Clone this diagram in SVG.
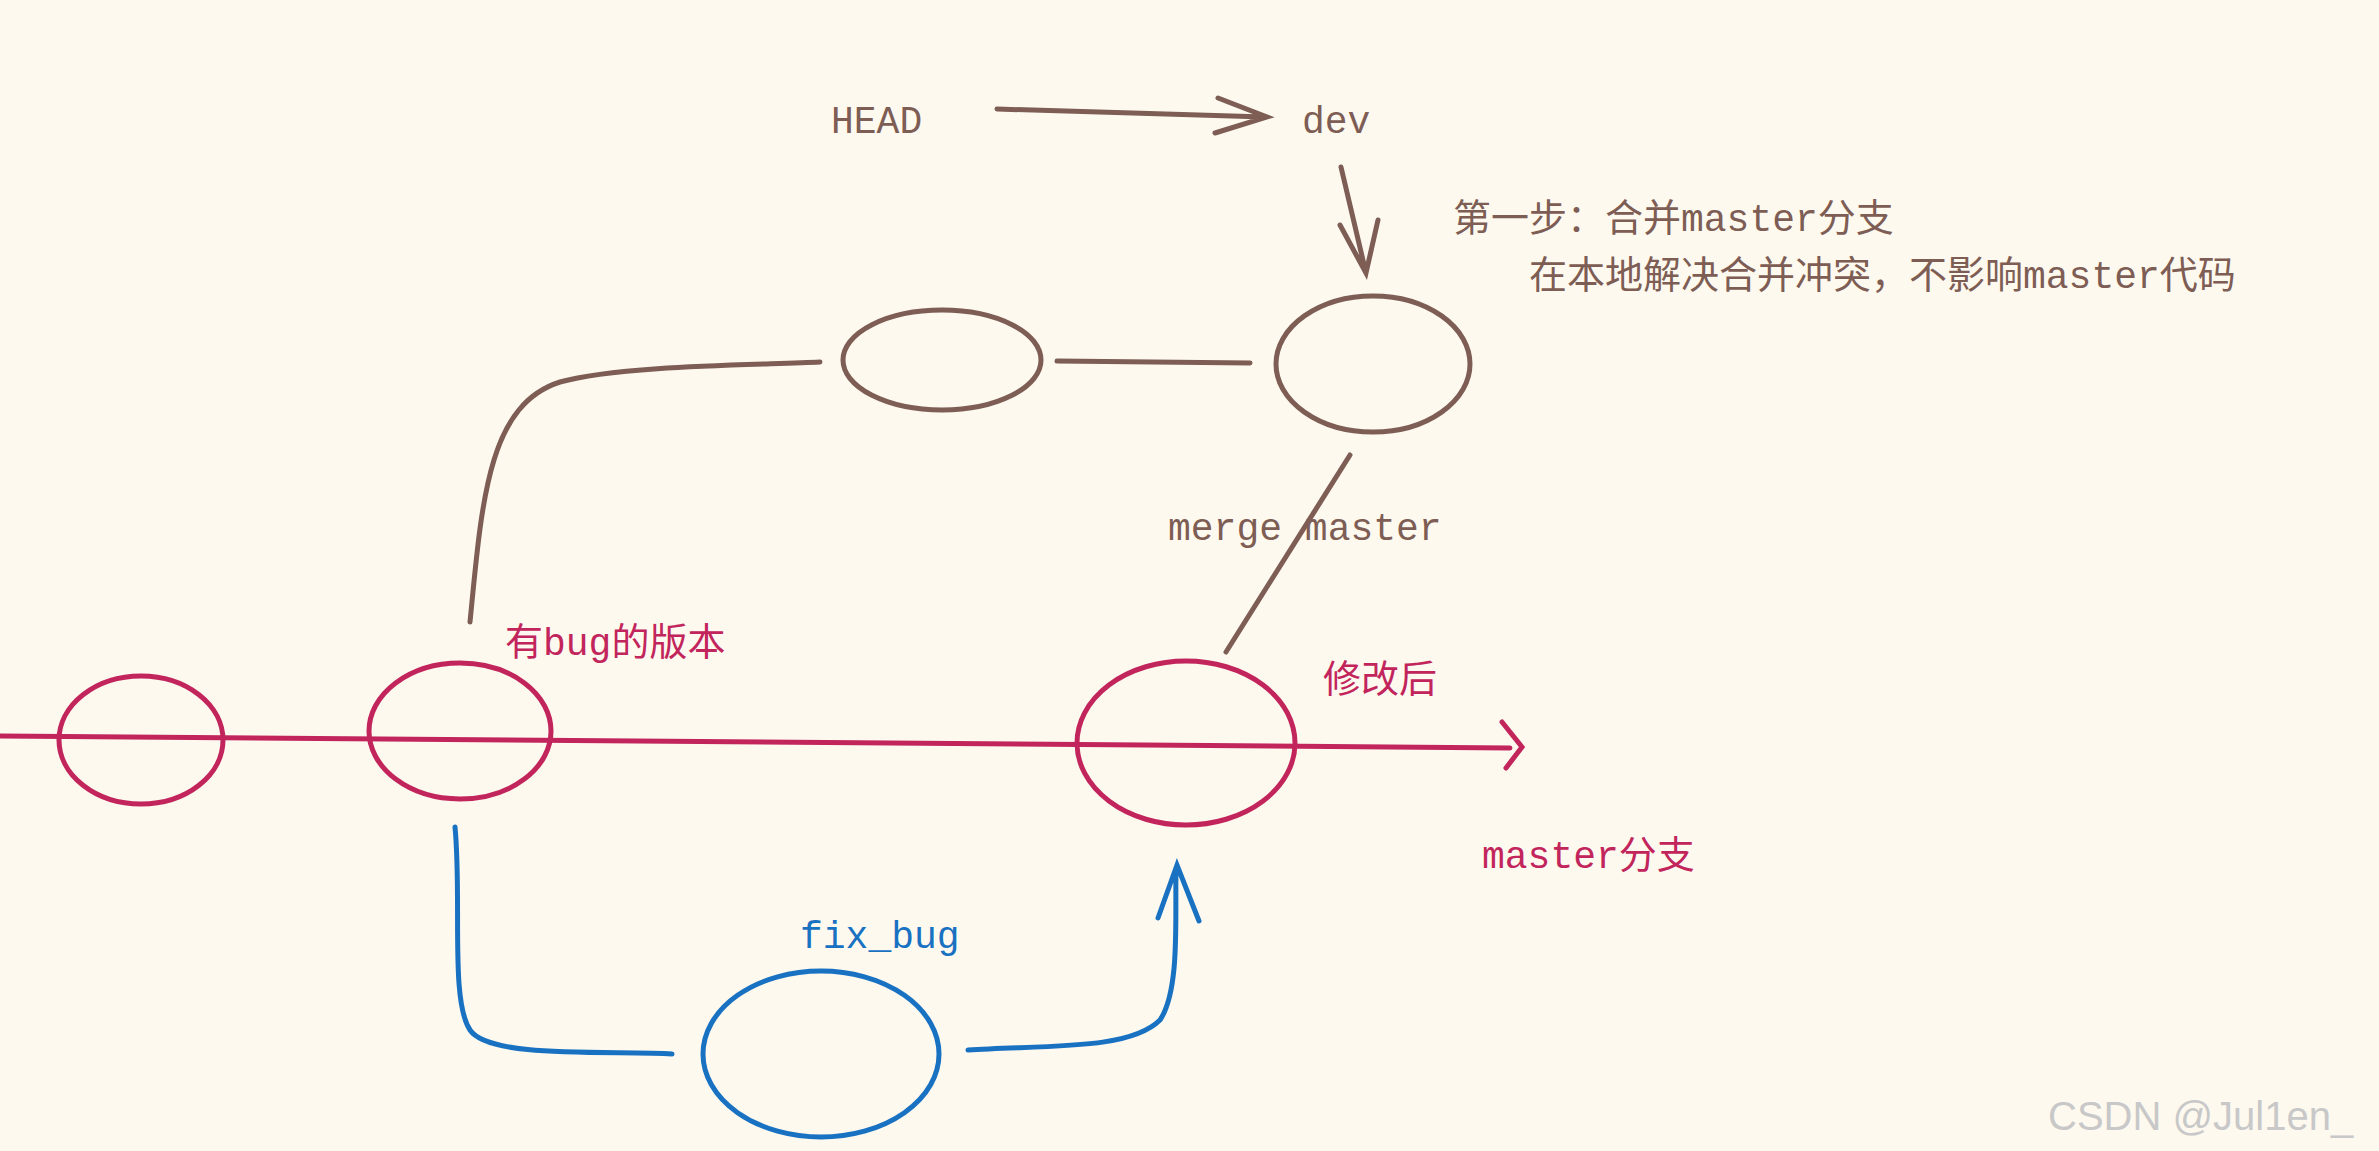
<svg xmlns="http://www.w3.org/2000/svg" width="2379" height="1151" viewBox="0 0 2379 1151">
<style>
.b{stroke:#7d5d54;fill:none;stroke-width:5;stroke-linecap:round}
.r{stroke:#c2255c;fill:none;stroke-width:5;stroke-linecap:round}
.u{stroke:#1971c2;fill:none;stroke-width:5;stroke-linecap:round}
text{font-family:"Liberation Mono","Noto Sans CJK SC",monospace;font-size:38px}
.tb{fill:#7d5d54}.tr{fill:#c2255c}.tu{fill:#1971c2}
</style>
<rect width="2379" height="1151" fill="#fdf9ef"/>
<g id="connectors">
<path class="b" d="M997,109 L1265,117 M1218,98 L1267,117 L1215,133"/>
<path class="b" d="M1341,167 L1366,273 M1340,225 L1366,273 L1378,220"/>
<path class="b" d="M1057,361 L1250,363"/>
<path class="b" d="M470,622 C482,500 488,405 560,382 C620,365 760,365 820,362"/>
<path class="b" d="M1350,455 L1226,652"/>
<path class="r" d="M0,736 L1510,748 M1502,722 L1522,747 L1506,768"/>
<path class="u" d="M455,827 C462,900 450,1000 470,1030 C490,1060 620,1050 672,1054"/>
<path class="u" d="M968,1050 C1050,1045 1130,1050 1160,1020 C1180,990 1175,920 1176,872 M1158,918 L1177,865 L1199,921"/>
</g>
<g id="n-head"><text class="tb" x="831" y="133">HEAD</text></g>
<g id="n-dev"><text class="tb" x="1302" y="133">dev</text></g>
<g id="n-note"><text class="tb" x="1453" y="231">第一步：合并master分支</text><text class="tb" x="1529" y="288">在本地解决合并冲突，不影响master代码</text></g>
<g id="n-dev1"><ellipse class="b" cx="942" cy="360" rx="99" ry="50"/></g>
<g id="n-dev2"><ellipse class="b" cx="1373" cy="364" rx="97" ry="68"/></g>
<g id="n-merge"><text class="tb" x="1168" y="540">merge master</text></g>
<g id="n-m1"><ellipse class="r" cx="141" cy="740" rx="82" ry="64"/></g>
<g id="n-m2"><ellipse class="r" cx="460" cy="731" rx="91" ry="68"/><text class="tr" x="505" y="655">有bug的版本</text></g>
<g id="n-m3"><ellipse class="r" cx="1186" cy="743" rx="109" ry="82"/><text class="tr" x="1323" y="692">修改后</text></g>
<g id="n-master"><text class="tr" x="1482" y="868">master分支</text></g>
<g id="n-fix"><ellipse class="u" cx="821" cy="1054" rx="118" ry="83"/><text class="tu" x="800" y="948">fix_bug</text></g>
<text x="2048" y="1130" fill="#c8c8c8" style="font-family:'Liberation Sans',sans-serif;font-size:40px">CSDN @Jul1en_</text>
</svg>
